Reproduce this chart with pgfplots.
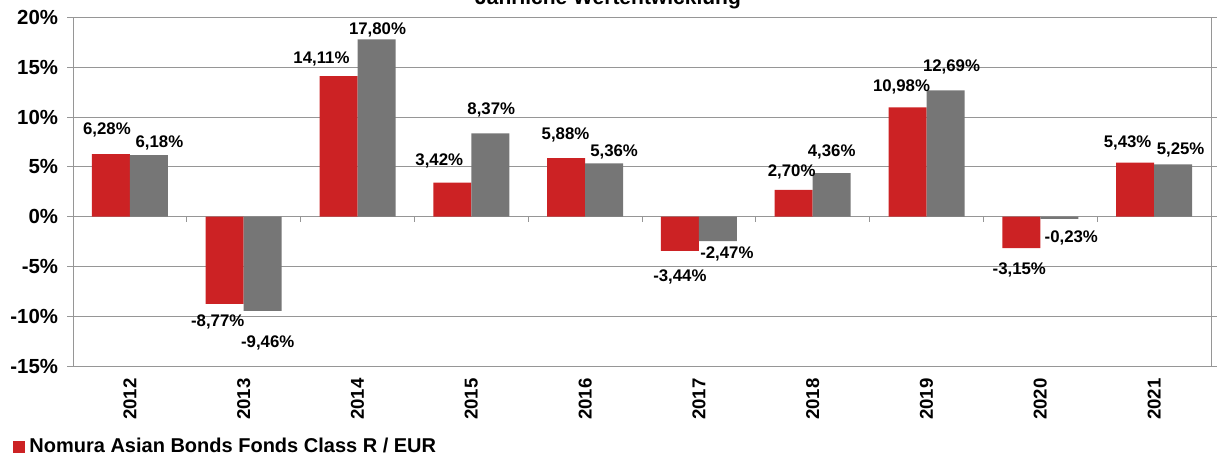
\documentclass[border=0pt]{standalone}
\usepackage{fontspec}
\setmainfont{Liberation Sans}
\usepackage{pgfplots}
\usepackage{pgfplotstable}
\pgfplotsset{compat=1.18}
\definecolor{fundred}{RGB}{204,34,36}
\definecolor{bmgray}{RGB}{118,118,118}
\definecolor{gridgray}{RGB}{150,150,150}
\pgfplotstableread{
x y dx dy
0 6.28 -2 12
1 -8.77 -3.5 -9
2 14.11 -8.5 8.5
3 3.42 -6.5 10.8
4 5.88 -0.3 11.5
5 -3.44 0 -13
6 2.70 -1 9
7 10.98 -3 10
8 -3.15 -1 -11
9 5.43 -3.75 9.8
}\fundtable
\pgfplotstableread{
x y dx dy
0 6.18 5.25 6
1 -9.46 2.5 -16
2 17.80 0.5 4.5
3 8.37 0.5 11.5
4 5.36 5 5.5
5 -2.47 4.5 -6.5
6 4.36 0 10.5
7 12.69 3 11.5
8 -0.23 6 -9.5
9 5.25 3.75 7
}\benchtable
\begin{document}
\begin{tikzpicture}
\useasboundingbox (0,0) rectangle (610.5pt,228pt);
\node[anchor=base,font=\bfseries\fontsize{10.5}{12}\selectfont] at (304pt,225.5pt) {Jährliche Wertentwicklung};
\begin{axis}[
  at={(36.5pt,45pt)}, anchor=south west,
  width=569pt, height=174.25pt, scale only axis,
  xmin=-0.5, xmax=9.5, ymin=-15, ymax=20,
  ytick={-15,-10,...,20},
  xtick={0,...,9},
  xticklabels={2012,2013,2014,2015,2016,2017,2018,2019,2020,2021},
  xticklabel style={rotate=90, anchor=east, font=\bfseries\fontsize{9.3}{11}\selectfont},
  yticklabel style={font=\bfseries\fontsize{10.2}{12}\selectfont, xshift=-1.2pt},
  yticklabel={\pgfmathprintnumber{\tick}\%},
  /pgf/number format/assume math mode=true,
  xtick style={draw=none},
  ytick style={draw=gridgray, thin},
  major tick length=2.75pt,
  tick align=outside,
  ymajorgrids,
  grid style={gridgray, thin},
  axis line style={gridgray, thin},
  ybar=0pt, bar width=19pt,
  nodes near coords={\pgfmathprintnumber[fixed,fixed zerofill,precision=2,use comma,assume math mode=true]{\pgfplotspointmeta}\%},
  nodes near coords style={font=\bfseries\fontsize{8.4}{10}\selectfont, anchor=center, inner sep=0pt},
  visualization depends on={\thisrow{dx} \as \labdx},
  visualization depends on={\thisrow{dy} \as \labdy},
  every node near coord/.append style={anchor=center, xshift=\labdx pt, yshift=\labdy pt},
  legend style={at={(-0.0527,-0.2324)}, anchor=west, draw=none, fill=none, inner sep=0pt,
    font=\bfseries\fontsize{10}{12}\selectfont},
  legend cell align=left,
  legend image code/.code={\fill[#1] (0pt,-3pt) rectangle (6pt,3pt);},
  clip=false,
]
\addplot[fill=fundred, draw=none, bar shift=-9.5pt] table[x=x,y=y] {\fundtable};
\addlegendentry{Nomura Asian Bonds Fonds Class R / EUR}
\addplot[fill=bmgray, draw=none, bar shift=9.5pt, forget plot] table[x=x,y=y] {\benchtable};
\pgfplotsinvokeforeach{0,...,8}{\draw[gridgray, thin] (axis cs:#1+0.5,0) -- ([yshift=-2.75pt]axis cs:#1+0.5,0);}
\end{axis}
\end{tikzpicture}
\end{document}
